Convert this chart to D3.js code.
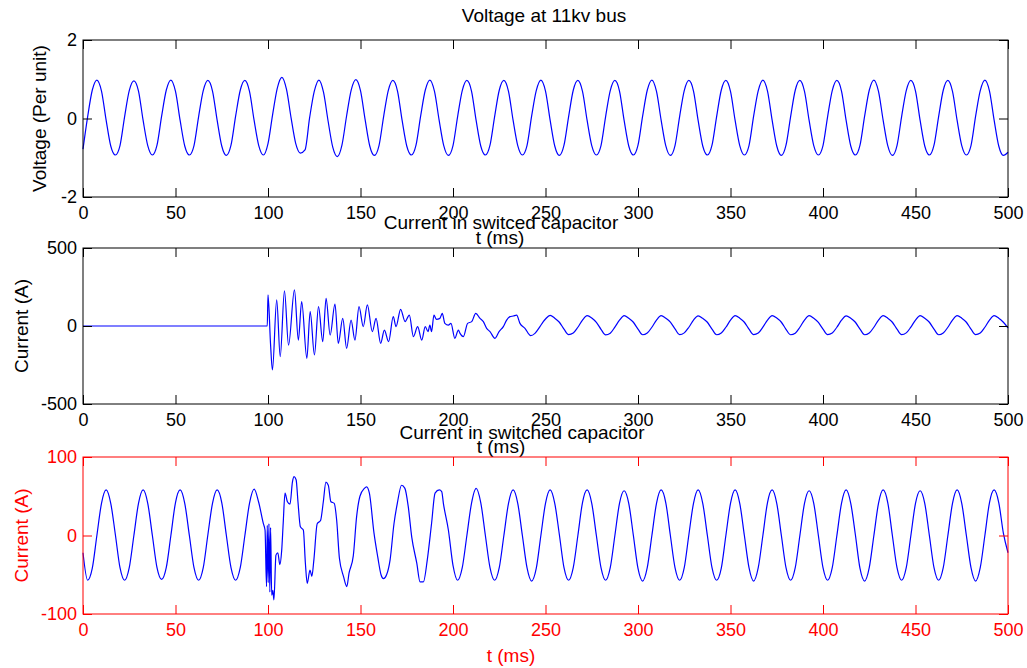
<!DOCTYPE html>
<html lang="en">
<head>
<meta charset="utf-8">
<title>Capacitor switching transient</title>
<script src="https://d3js.org/d3.v7.min.js"></script>
<style>
    body {
        margin: 0;
        background: #fff;
    }
    svg text {
        font-family: Arial, "Liberation Sans", sans-serif;
        font-size: 19px;
    }
</style>
</head>
<body>
<svg id="chart" width="1027" height="668"></svg>
<script>
// ---- data (t in ms) ----
var xTicks = [0, 50, 100, 150, 200, 250, 300, 350, 400, 450, 500];
var voltTicks = [-2, 0, 2];
var cur1Ticks = [-500, 0, 500];
var cur2Ticks = [-100, 0, 100];

var sampleStep = 2.5;

// bus voltage, per unit, one sample every 2.5 ms from 0 to 500
var voltV = [
    -0.78, 0.04, 0.72, 0.98, 0.70, -0.04, -0.70, -0.93,
    -0.69, 0.05, 0.71, 0.96, 0.70, -0.05, -0.69, -0.93,
    -0.68, 0.06, 0.72, 0.98, 0.69, -0.05, -0.70, -0.93,
    -0.69, 0.05, 0.71, 0.97, 0.70, -0.04, -0.70, -0.94,
    -0.68, 0.06, 0.72, 0.97, 0.69, -0.05, -0.69, -0.93,
    -0.64, 0.10, 0.77, 1.05, 0.74, 0.01, -0.64, -0.88,
    -0.80, 0.02, 0.69, 0.98, 0.67, -0.07, -0.73, -0.97,
    -0.67, 0.07, 0.73, 0.99, 0.71, -0.03, -0.70, -0.94,
    -0.69, 0.05, 0.71, 0.97, 0.70, -0.05, -0.70, -0.93,
    -0.68, 0.06, 0.72, 0.98, 0.69, -0.04, -0.69, -0.94,
    -0.69, 0.05, 0.71, 0.97, 0.70, -0.05, -0.70, -0.93,
    -0.68, 0.05, 0.72, 0.97, 0.69, -0.05, -0.69, -0.93,
    -0.69, 0.06, 0.71, 0.98, 0.70, -0.04, -0.70, -0.94,
    -0.68, 0.05, 0.72, 0.97, 0.69, -0.05, -0.69, -0.93,
    -0.69, 0.05, 0.71, 0.97, 0.70, -0.05, -0.70, -0.93,
    -0.68, 0.06, 0.72, 0.98, 0.69, -0.04, -0.69, -0.94,
    -0.69, 0.05, 0.71, 0.97, 0.70, -0.05, -0.70, -0.93,
    -0.68, 0.05, 0.72, 0.97, 0.69, -0.05, -0.69, -0.93,
    -0.69, 0.06, 0.71, 0.98, 0.70, -0.04, -0.70, -0.94,
    -0.68, 0.05, 0.72, 0.97, 0.69, -0.05, -0.69, -0.93,
    -0.69, 0.05, 0.71, 0.97, 0.70, -0.05, -0.70, -0.93,
    -0.68, 0.06, 0.72, 0.98, 0.69, -0.04, -0.69, -0.94,
    -0.69, 0.05, 0.71, 0.97, 0.70, -0.05, -0.70, -0.93,
    -0.68, 0.05, 0.72, 0.97, 0.69, -0.05, -0.69, -0.93,
    -0.69, 0.06, 0.71, 0.98, 0.70, -0.04, -0.70, -0.94,
    -0.86
];

// capacitor current (first trace): off before switching
var cur1PreT = [0, 99.6];
var cur1PreV = [0, 0];
// switching transient, irregular samples
var cur1TrT = [
    100.0, 101.4, 102.4, 104.7, 106.6, 108.9, 111.1, 114.3, 116.4, 118.2,
    121.0, 122.8, 125.1, 127.3, 129.6, 131.4, 133.6, 136.2, 138.0, 140.4,
    142.5, 144.9, 147.0, 149.2, 151.5, 153.7, 156.4, 158.4, 160.9, 162.9,
    165.2, 167.7, 169.2, 171.7, 174.1, 176.4, 178.6, 180.9, 183.1, 185.0,
    186.5, 187.5, 188.4, 189.7, 191.0, 192.9, 194.2, 195.6, 197.5, 198.9,
    201.0, 202.9, 203.8, 205.6, 207.9, 210.1, 212.3, 214.6, 216.4, 218.2,
    220.0, 222.7, 224.9, 227.2, 229.0, 230.8, 232.6, 234.4, 236.2, 238.9,
    242.0, 244.3, 247.0, 248.8
];
var cur1TrV = [
    199, -122, -282, 167, -197, 226, -122, 231, -90, 156,
    -207, 92, -186, 124, -101, 177, -58, 141, -111, 49,
    -143, 38, -90, 124, -4, 135, -36, 49, -111, -26,
    -100, 60, -4, 107, 28, 70, -68, -4, -90, -4,
    -36, 6, -36, 70, 43, 49, 81, 17, 6, 17,
    -79, -26, -47, -68, 17, 28, 81, 49, 28, -15,
    -36, -79, -36, -4, 38, 60, 64, 70, 17, -15,
    -62, -47, -4, 28
];
// settled part, every 2.5 ms from 250 to 500
var cur1SsV = [
    45,
    68, 50, 24, -20, -55, -45, -8, 38,
    66, 51, 23, -21, -57, -46, -7, 37,
    67, 50, 24, -20, -56, -45, -8, 38,
    66, 50, 25, -19, -55, -44, -8, 38,
    65, 49, 24, -20, -56, -45, -8, 37,
    66, 50, 24, -20, -55, -45, -7, 38,
    67, 51, 24, -21, -56, -46, -8, 38,
    66, 50, 23, -20, -55, -45, -8, 37,
    65, 50, 24, -20, -56, -45, -8, 38,
    66, 50, 24, -20, -55, -44, -7, 38,
    67, 50, 24, -20, -56, -45, -8, 38,
    66, 50, 24, -20, -55, -45, -8, 38,
    66, 50, 24, -12
];

// capacitor current (second trace), every 2.5 ms from 0 to 97.5
var cur2PreV = [
    -22, -57, -42, 0, 41, 58, 41, 1,
    -41, -57, -41, 0, 41, 58, 41, 0,
    -41, -56, -41, 0, 42, 58, 41, 0,
    -41, -57, -41, 1, 41, 58, 42, 0,
    -41, -57, -41, 0, 41, 59, 42, 15
];
var cur2TrT = [
    98.4, 99.2, 99.6, 100.1, 100.5, 101.0, 101.4, 102.0, 102.6, 103.2,
    104.3, 105.3, 106.4, 107.4, 108.2, 109.2, 110.5, 111.9, 113.2, 114.1,
    115.2, 116.2, 117.5, 119.1, 120.2, 121.2, 122.7, 123.7, 124.8, 126.6,
    128.4, 129.9, 131.3, 132.6, 134.0, 135.8, 137.1, 138.6, 140.8, 142.6,
    143.8, 146.1, 147.9, 149.7, 152.1, 153.3, 154.8, 157.3, 159.3, 161.1,
    162.4, 164.1, 166.0, 168.1, 169.9, 172.2, 174.0, 175.8, 177.7, 180.4,
    182.2, 184.0, 186.1, 188.4, 190.3, 192.6, 193.9, 194.8, 197.5
];
var cur2TrV = [
    7, -65, 13, -60, 15, -72, 10, -76, -70, -82,
    -25, -22, -37, -19, 15, 54, 43, 40, 68, 75,
    71, 43, 11, 7, -35, -61, -44, -52, -31, 15,
    19, 43, 68, 64, 43, 41, 20, -29, -52, -65,
    -48, -26, 24, 50, 60, 62, 54, 3, -27, -50,
    -55, -50, -31, 15, 41, 64, 60, 37, -2, -35,
    -59, -59, -31, 15, 54, 58, 56, 41, 7
];
// every 2.5 ms from 200 to 500
var cur2PostV = [
    -38, -57, -41, 0, 41, 60, 42, 0,
    -41, -57, -41, 0, 41, 58, 41, 0,
    -41, -58, -42, 0, 41, 58, 41, 1,
    -41, -57, -41, 0, 42, 58, 41, 0,
    -41, -57, -41, 0, 41, 57, 41, 0,
    -42, -58, -41, 0, 41, 58, 42, 0,
    -41, -57, -41, 1, 41, 58, 41, 0,
    -41, -57, -42, 0, 41, 58, 41, 0,
    -41, -58, -41, 0, 42, 58, 41, 0,
    -41, -57, -41, 0, 41, 57, 41, 0,
    -41, -57, -41, 0, 41, 58, 41, 1,
    -42, -58, -41, 0, 41, 58, 42, 0,
    -41, -57, -41, 0, 41, 57, 41, 0,
    -41, -57, -41, 0, 41, 58, 41, 0,
    -41, -58, -41, 0, 42, 58, 42, 3,
    -22
];

// ---- build the point lists ----
function gridPoints(start, values) {
    return values.map(function(v, i) { return [start + i * sampleStep, v]; });
}
function pairPoints(ts, vs) {
    return ts.map(function(t, i) { return [t, vs[i]]; });
}

var voltPts = gridPoints(0, voltV);
var cur1Pts = pairPoints(cur1PreT, cur1PreV)
    .concat(pairPoints(cur1TrT, cur1TrV))
    .concat(gridPoints(250, cur1SsV));
var cur2Pts = gridPoints(0, cur2PreV)
    .concat(pairPoints(cur2TrT, cur2TrV))
    .concat(gridPoints(200, cur2PostV));

// ---- layout ----
var plotLeft = 83, plotRight = 1008;
var tickLen = 9;
var plainNum = function(d) { return String(d); };   // hyphen minus, no decimals

var panels = [
    { top: 40, bottom: 197, domain: [-2, 2], ticks: voltTicks, axisColor: "#000",
      pts: voltPts, title: "Voltage at 11kv bus", titleX: 544, titleY: 22,
      ylabel: "Voltage (Per unit)", ylabelX: 46, xlabelX: 500, xlabelY: 244 },
    { top: 248, bottom: 404, domain: [-500, 500], ticks: cur1Ticks, axisColor: "#000",
      pts: cur1Pts, title: "Current in switced capacitor", titleX: 501, titleY: 229,
      ylabel: "Current (A)", ylabelX: 28, xlabelX: 501, xlabelY: 453 },
    { top: 457, bottom: 614, domain: [-100, 100], ticks: cur2Ticks, axisColor: "#ff0000",
      pts: cur2Pts, title: "Current in switched capacitor", titleX: 522, titleY: 439,
      ylabel: "Current (A)", ylabelX: 28, xlabelX: 511, xlabelY: 662 }
];

var svg = d3.select("#chart");
svg.append("rect").attr("width", 1027).attr("height", 668).attr("fill", "#fff");

var x = d3.scaleLinear().domain([0, 500]).range([plotLeft, plotRight]);

panels.forEach(function(p) {
    var y = d3.scaleLinear().domain(p.domain).range([p.bottom, p.top]);
    var g = svg.append("g");

    // trace
    var line = d3.line()
        .x(function(d) { return x(d[0]); })
        .y(function(d) { return y(d[1]); })
        .curve(d3.curveMonotoneX);

    g.append("path")
        .datum(p.pts)
        .attr("fill", "none")
        .attr("stroke", "#0000ff")
        .attr("stroke-width", 1.2)
        .attr("d", line);

    // axes with inward ticks on all four sides
    var bottomAxis = g.append("g")
        .attr("transform", "translate(0," + p.bottom + ")")
        .call(d3.axisBottom(x).tickValues(xTicks).tickFormat(plainNum)
            .tickSizeInner(-tickLen).tickSizeOuter(0).tickPadding(9));
    var topAxis = g.append("g")
        .attr("transform", "translate(0," + p.top + ")")
        .call(d3.axisTop(x).tickValues(xTicks).tickSizeInner(-tickLen).tickSizeOuter(0).tickFormat(""));
    var leftAxis = g.append("g")
        .attr("transform", "translate(" + plotLeft + ",0)")
        .call(d3.axisLeft(y).tickValues(p.ticks).tickFormat(plainNum)
            .tickSizeInner(-tickLen).tickSizeOuter(0).tickPadding(6));
    var rightAxis = g.append("g")
        .attr("transform", "translate(" + plotRight + ",0)")
        .call(d3.axisRight(y).tickValues(p.ticks).tickSizeInner(-tickLen).tickSizeOuter(0).tickFormat(""));

    [bottomAxis, topAxis, leftAxis, rightAxis].forEach(function(a) {
        a.select(".domain").remove();
        a.selectAll("line").attr("stroke", p.axisColor);
        a.selectAll("text")
            .attr("fill", p.axisColor)
            .style("font-size", "18px")
            .style("font-family", "Arial, 'Liberation Sans', sans-serif");
    });

    // box
    g.append("rect")
        .attr("x", plotLeft)
        .attr("y", p.top)
        .attr("width", plotRight - plotLeft)
        .attr("height", p.bottom - p.top)
        .attr("fill", "none")
        .attr("stroke", p.axisColor)
        .attr("stroke-width", 1);

    // labels
    g.append("text")
        .attr("x", p.titleX)
        .attr("y", p.titleY)
        .attr("text-anchor", "middle")
        .attr("fill", "#000")
        .text(p.title);

    g.append("text")
        .attr("x", p.xlabelX)
        .attr("y", p.xlabelY)
        .attr("text-anchor", "middle")
        .attr("fill", p.axisColor)
        .text("t (ms)");

    g.append("text")
        .attr("transform", "translate(" + p.ylabelX + "," + ((p.top + p.bottom) / 2) + ") rotate(-90)")
        .attr("text-anchor", "middle")
        .attr("fill", p.axisColor)
        .text(p.ylabel);
});
</script>
</body>
</html>
